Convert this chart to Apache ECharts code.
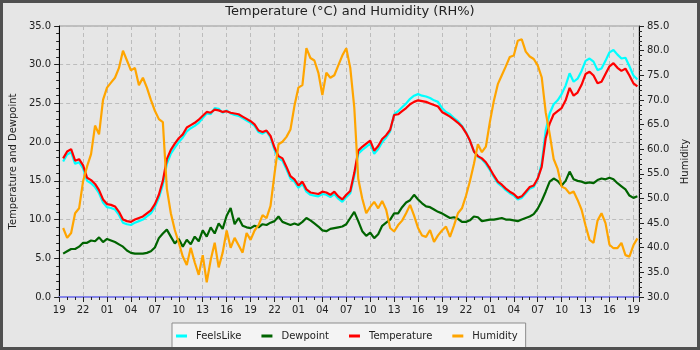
<!DOCTYPE html>
<html>
<head>
<meta charset="utf-8">
<script src="https://cdn.jsdelivr.net/npm/echarts@6/dist/echarts.min.js"></script>
<style>
html, body { margin: 0; padding: 0; background: #e6e6e6; }
#wrap { position: relative; width: 700px; height: 350px; }
#chart { width: 700px; height: 350px; }
#frame { position: absolute; left: 0; top: 0; width: 700px; height: 350px; box-sizing: border-box; border: 3px solid #505050; pointer-events: none; }
</style>
</head>
<body>
<div id="wrap"><div id="chart"></div><div id="frame"></div></div>
<script>
// readings every half hour, hour 0 = 19:00 on the first day
const startHour = 0.5;
const stepHour = 0.5;
const firstClockHour = 19;

const feelsLike = [
    17.5, 18.4, 18.7, 17.2, 17.4, 16.6, 15.0, 14.7, 14.2, 13.4,
    12.2, 11.6, 11.5, 11.3, 10.6, 9.6, 9.4, 9.3, 9.6, 9.8,
    10.0, 10.4, 10.8, 11.6, 12.8, 14.5, 17.2, 18.5, 19.3, 20.0,
    20.6, 21.4, 21.8, 22.1, 22.5, 23.1, 23.7, 23.6, 24.4, 24.3,
    23.8, 24.1, 23.7, 23.5, 23.4, 23.1, 22.8, 22.5, 22.1, 21.3,
    21.1, 21.4, 20.6, 19.0, 17.9, 17.6, 16.5, 15.3, 14.9, 14.1,
    14.6, 13.6, 13.2, 13.1, 13.0, 13.3, 13.2, 12.9, 13.3, 12.7,
    12.3, 12.9, 13.4, 15.6, 18.5, 19.0, 19.4, 19.8, 18.5, 19.1,
    20.0, 20.6, 21.4, 23.6, 24.0, 24.5, 25.0, 25.6, 26.0, 26.2,
    26.0, 25.9, 25.7, 25.4, 25.2, 24.4, 23.9, 23.6, 23.1, 22.7,
    22.1, 21.3, 20.2, 18.8, 18.1, 17.8, 17.2, 16.4, 15.5, 14.7,
    14.3, 13.8, 13.4, 13.1, 12.6, 12.8, 13.4, 14.0, 14.2, 15.2,
    17.3, 21.5, 23.7, 24.9, 25.4, 26.2, 27.3, 28.9, 27.8, 28.2,
    29.2, 30.5, 30.8, 30.4, 29.3, 29.5, 30.5, 31.6, 31.9, 31.3,
    30.8, 30.9, 29.8, 28.6, 28.1
];
const dewpoint = [
    5.6, 5.9, 6.2, 6.2, 6.5, 7.0, 7.0, 7.3, 7.2, 7.7,
    7.1, 7.5, 7.3, 7.1, 6.8, 6.5, 6.0, 5.7, 5.6, 5.6,
    5.6, 5.7, 5.9, 6.4, 7.6, 8.2, 8.7, 7.8, 6.9, 7.5,
    6.5, 7.4, 6.8, 7.8, 7.2, 8.6, 7.8, 9.0, 8.2, 9.5,
    8.8, 10.5, 11.5, 9.4, 10.2, 9.2, 9.0, 8.9, 9.2, 9.0,
    9.4, 9.3, 9.6, 9.8, 10.4, 9.7, 9.5, 9.3, 9.5, 9.3,
    9.7, 10.2, 9.9, 9.5, 9.1, 8.6, 8.5, 8.8, 8.9, 9.0,
    9.1, 9.4, 10.2, 11.0, 9.8, 8.5, 7.9, 8.3, 7.6, 8.1,
    9.2, 9.6, 10.0, 10.8, 10.8, 11.6, 12.2, 12.5, 13.2, 12.6,
    12.1, 11.7, 11.6, 11.3, 11.0, 10.8, 10.5, 10.2, 10.3, 10.1,
    9.7, 9.7, 9.9, 10.4, 10.3, 9.8, 9.9, 10.0, 10.0, 10.1,
    10.2, 10.0, 10.0, 9.9, 9.8, 10.0, 10.2, 10.4, 10.7, 11.4,
    12.4, 13.6, 14.9, 15.3, 15.0, 14.4, 15.0, 16.2, 15.2, 15.0,
    14.9, 14.7, 14.8, 14.7, 15.1, 15.3, 15.2, 15.4, 15.2, 14.7,
    14.3, 13.9, 13.1, 12.8, 13.0
];
const temperature = [
    17.9, 18.8, 19.1, 17.6, 17.8, 17.0, 15.4, 15.1, 14.6, 13.8,
    12.6, 12.0, 11.9, 11.7, 11.0, 10.0, 9.8, 9.7, 10.0, 10.2,
    10.4, 10.8, 11.2, 12.0, 13.2, 15.0, 17.8, 19.0, 19.8, 20.5,
    21.0, 21.9, 22.2, 22.5, 22.9, 23.4, 23.9, 23.8, 24.2, 24.1,
    23.9, 24.0, 23.8, 23.7, 23.6, 23.3, 23.0, 22.7, 22.3, 21.5,
    21.3, 21.5, 20.8, 19.3, 18.2, 17.9, 16.8, 15.6, 15.2, 14.4,
    14.9, 13.9, 13.5, 13.4, 13.3, 13.6, 13.5, 13.2, 13.6, 13.0,
    12.6, 13.2, 13.7, 16.0, 18.9, 19.4, 19.8, 20.2, 18.9, 19.5,
    20.4, 20.9, 21.6, 23.5, 23.6, 24.0, 24.4, 24.9, 25.2, 25.4,
    25.3, 25.2, 25.0, 24.8, 24.6, 23.9, 23.6, 23.3, 22.9, 22.5,
    22.0, 21.2, 20.2, 18.8, 18.2, 17.9, 17.4, 16.6, 15.7, 14.9,
    14.5, 14.0, 13.6, 13.3, 12.8, 13.0, 13.6, 14.2, 14.4, 15.3,
    16.8, 20.5, 22.4, 23.6, 24.0, 24.4, 25.4, 27.0, 26.0, 26.4,
    27.4, 28.8, 29.1, 28.6, 27.6, 27.8, 28.8, 29.8, 30.2, 29.6,
    29.2, 29.5, 28.6, 27.6, 27.2
];
const humidity = [
    44.0, 42.0, 43.0, 47.0, 48.0, 53.5, 56.5, 59.0, 64.8, 63.0,
    70.0, 72.5, 73.5, 74.5, 76.5, 80.0, 78.0, 76.0, 76.5, 73.0,
    74.5, 72.5, 70.0, 67.8, 66.1, 65.5, 52.0, 47.0, 43.6, 41.0,
    38.2, 36.5, 40.0, 37.0, 34.5, 38.5, 33.0, 37.5, 41.0, 36.0,
    39.0, 43.5, 40.0, 42.0, 40.5, 39.0, 43.0, 41.6, 43.5, 44.6,
    46.6, 46.0, 48.5, 55.0, 61.0, 61.5, 62.5, 64.0, 68.8, 72.5,
    73.0, 80.5, 78.5, 78.0, 75.5, 71.0, 75.5, 74.5, 75.0, 77.0,
    79.0, 80.5, 76.5, 68.5, 54.0, 50.0, 47.0, 48.3, 49.3, 48.0,
    49.5, 47.7, 44.0, 43.3, 44.6, 45.5, 47.0, 48.7, 46.5, 44.0,
    42.5, 42.2, 43.6, 41.2, 42.5, 43.5, 44.3, 42.2, 44.5, 47.0,
    48.0, 50.5, 53.5, 57.0, 61.0, 59.4, 60.5, 65.5, 69.8, 73.2,
    75.0, 76.8, 78.7, 79.0, 82.0, 82.3, 79.8, 78.8, 78.3, 77.0,
    74.6, 67.5, 63.1, 58.0, 56.0, 52.4, 52.0, 51.0, 51.4, 49.7,
    47.7, 44.5, 41.6, 41.0, 45.5, 47.0, 45.0, 40.6, 39.9, 39.9,
    41.0, 38.5, 38.2, 40.5, 41.9
];

const names = ['FeelsLike', 'Dewpoint', 'Temperature', 'Humidity'];
const colors = ['#00ffff', '#006400', '#ff0000', '#ffa500'];
const font = 'DejaVu Sans';

function withHours(vals) {
    return vals.map((v, i) => [startHour + i * stepHour, v]);
}

const gridLine = { color: '#bcbcbc', type: [4, 3], width: 1 };

const chart = echarts.init(document.getElementById('chart'), null, { renderer: 'canvas' });
const option = {
    backgroundColor: '#e6e6e6',
    animation: false,
    color: colors,
    textStyle: { fontFamily: font },
    title: {
        text: 'Temperature (°C) and Humidity (RH%)',
        left: 'center',
        top: 0,
        textStyle: { fontSize: 13, fontWeight: 'normal', color: '#222', fontFamily: font }
    },
    legend: {
        data: names,
        left: 172,
        top: 323,
        padding: [8, 8, 10, 4],
        backgroundColor: '#f4f4f4',
        borderColor: '#8c8c8c',
        borderWidth: 1,
        itemWidth: 11,
        itemHeight: 3,
        itemGap: 20,
        icon: 'rect',
        textStyle: { fontSize: 10, color: '#222', fontFamily: font, padding: [0, 0, 0, 4] }
    },
    grid: {
        left: 55, right: 61, top: 26, bottom: 53,
        show: true, borderColor: '#999', borderWidth: 1, backgroundColor: 'transparent'
    },
    xAxis: {
        type: 'value',
        min: 0,
        max: 72.7,
        interval: 3,
        axisLine: { onZero: false, lineStyle: { color: '#8484e8', width: 2 } },
        axisTick: { length: 5, lineStyle: { color: '#222' } },
        minorTick: { show: true, splitNumber: 3, length: 3, lineStyle: { color: '#222' } },
        axisLabel: {
            margin: 8, fontSize: 10, color: '#222', fontFamily: font,
            formatter: function (v) {
                if (Math.abs(v % 3) > 1e-6) return '';
                const hr = (firstClockHour + v) % 24;
                return (hr < 10 ? '0' : '') + hr;
            }
        },
        splitLine: { show: true, lineStyle: gridLine }
    },
    yAxis: [
        {
            type: 'value', min: 0, max: 35, interval: 5, position: 'left',
            name: 'Temperature and Dewpoint', nameLocation: 'middle', nameGap: 36,
            nameTextStyle: { fontSize: 10, color: '#222', fontFamily: font },
            axisLine: { show: true, onZero: false, lineStyle: { color: '#000', width: 1 } },
            axisTick: { show: true, length: 5, lineStyle: { color: '#222' } },
            minorTick: { show: true, splitNumber: 5, length: 3, lineStyle: { color: '#222' } },
            axisLabel: { margin: 8, fontSize: 10, color: '#222', fontFamily: font, formatter: v => v.toFixed(1) },
            splitLine: { show: true, lineStyle: gridLine }
        },
        {
            type: 'value', min: 30, max: 85, interval: 5, position: 'right',
            name: 'Humidity', nameLocation: 'middle', nameGap: 37,
            nameTextStyle: { fontSize: 10, color: '#222', fontFamily: font },
            axisLine: { show: true, onZero: false, lineStyle: { color: '#000', width: 1 } },
            axisTick: { show: true, length: 5, lineStyle: { color: '#222' } },
            minorTick: { show: true, splitNumber: 5, length: 3, lineStyle: { color: '#222' } },
            axisLabel: { margin: 8, fontSize: 10, color: '#222', fontFamily: font, formatter: v => v.toFixed(1) },
            splitLine: { show: false }
        }
    ],
    series: [
        { name: names[0], type: 'line', yAxisIndex: 0, showSymbol: false, lineStyle: { width: 2.2 }, data: withHours(feelsLike) },
        { name: names[1], type: 'line', yAxisIndex: 0, showSymbol: false, lineStyle: { width: 2.2 }, data: withHours(dewpoint) },
        { name: names[2], type: 'line', yAxisIndex: 0, showSymbol: false, lineStyle: { width: 2.2 }, data: withHours(temperature) },
        { name: names[3], type: 'line', yAxisIndex: 1, showSymbol: false, lineStyle: { width: 2.2 }, data: withHours(humidity) }
    ]
};
chart.setOption(option);
</script>
</body>
</html>
